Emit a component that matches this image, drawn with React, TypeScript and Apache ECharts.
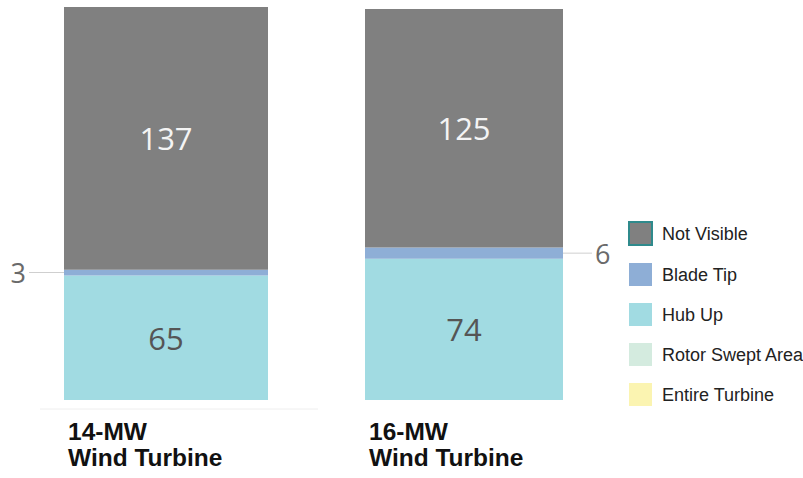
import React, { useEffect, useRef } from "react";
import * as echarts from "echarts";

const turbines = ["14-MW\nWind Turbine", "16-MW\nWind Turbine"];
const seriesNames = ["Not Visible", "Blade Tip", "Hub Up", "Rotor Swept Area", "Entire Turbine"];
const notVisible = [137, 125];
const bladeTip = [3, 6];
const hubUp = [65, 74];
const rotorSweptArea = [0, 0];
const entireTurbine = [0, 0];
const axisMax = 205;

const colors: Record<string, string> = {
  "Not Visible": "#808080",
  "Blade Tip": "#8eaed6",
  "Hub Up": "#a1dbe2",
  "Rotor Swept Area": "#d4ebdf",
  "Entire Turbine": "#fbf4b1",
};

export default function App() {
  const ref = useRef<HTMLDivElement>(null);
  useEffect(() => {
    if (!ref.current) return;
    const chart = echarts.init(ref.current, undefined, { renderer: "svg" });
    const numFont = "'Open Sans', 'DejaVu Sans', sans-serif";
    const txtFont = "'Liberation Sans', Arial, sans-serif";
    const grids = [
      { left: 64, width: 204, top: 7, height: 393 },
      { left: 365, width: 198, top: 9, height: 391 },
    ];
    const valuesBySeries: Record<string, number[]> = {
      "Not Visible": notVisible,
      "Blade Tip": bladeTip,
      "Hub Up": hubUp,
      "Rotor Swept Area": rotorSweptArea,
      "Entire Turbine": entireTurbine,
    };
    const stackOrder = ["Hub Up", "Blade Tip", "Not Visible", "Rotor Swept Area", "Entire Turbine"];
    const series: any[] = [];
    turbines.forEach((t, gi) => {
      stackOrder.forEach((name) => {
        const v = valuesBySeries[name][gi];
        let label: any = { show: false };
        if (name === "Not Visible") {
          label = { show: v > 0, position: "inside", color: "#f4f4f4", fontSize: 31, fontFamily: numFont };
        } else if (name === "Hub Up") {
          label = { show: v > 0, position: "inside", color: "#555555", fontSize: 31, fontFamily: numFont };
        } else if (name === "Blade Tip") {
          const lineLen = gi === 0 ? 35 : 29;
          label = {
            show: v > 0,
            position: gi === 0 ? "left" : "right",
            distance: 0,
            formatter: gi === 0 ? "{n|{c}}{g|}{l|}" : "{l|}{g|}{n|{c}}",
            rich: {
              n: { color: "#6a6a6a", fontSize: 27, fontFamily: numFont },
              g: { width: 3, height: 1 },
              l: { width: lineLen, height: 1, backgroundColor: "#cfcfcf" },
            },
          };
        }
        series.push({
          type: "bar",
          name,
          xAxisIndex: gi,
          yAxisIndex: gi,
          stack: "s" + gi,
          barWidth: "100%",
          data: [v],
          itemStyle: { color: colors[name] },
          label,
        });
      });
    });
    chart.setOption({
      animation: false,
      grid: grids,
      xAxis: grids.map((_, gi) => ({ type: "category", gridIndex: gi, data: [turbines[gi]], show: false })),
      yAxis: grids.map((_, gi) => ({ type: "value", gridIndex: gi, min: 0, max: axisMax, show: false })),
      title: turbines.map((t, gi) => ({
        text: t,
        left: grids[gi].left - 1,
        top: 413,
        textStyle: { fontSize: 24.5, fontWeight: "bold", color: "#111111", fontFamily: txtFont, lineHeight: 26 },
      })),
      legend: {
        orient: "vertical",
        left: 623,
        top: 216,
        itemWidth: 23,
        itemHeight: 23,
        itemGap: 17,
        icon: "rect",
        textStyle: { fontSize: 18, color: "#222222", fontFamily: txtFont, padding: [0, 0, 0, 5] },
        data: seriesNames.map((n) =>
          n === "Not Visible"
            ? { name: n, itemStyle: { borderColor: "#2f8a8c", borderWidth: 2 } }
            : { name: n }
        ),
      },
      graphic: [
        { type: "line", shape: { x1: 40, y1: 409, x2: 318, y2: 409 }, style: { stroke: "#eeeeee", lineWidth: 1 } },
      ],
      series,
    });
    return () => chart.dispose();
  }, []);
  return <div ref={ref} style={{ width: 803, height: 478, position: "absolute", left: 0, top: 0 }} />;
}
